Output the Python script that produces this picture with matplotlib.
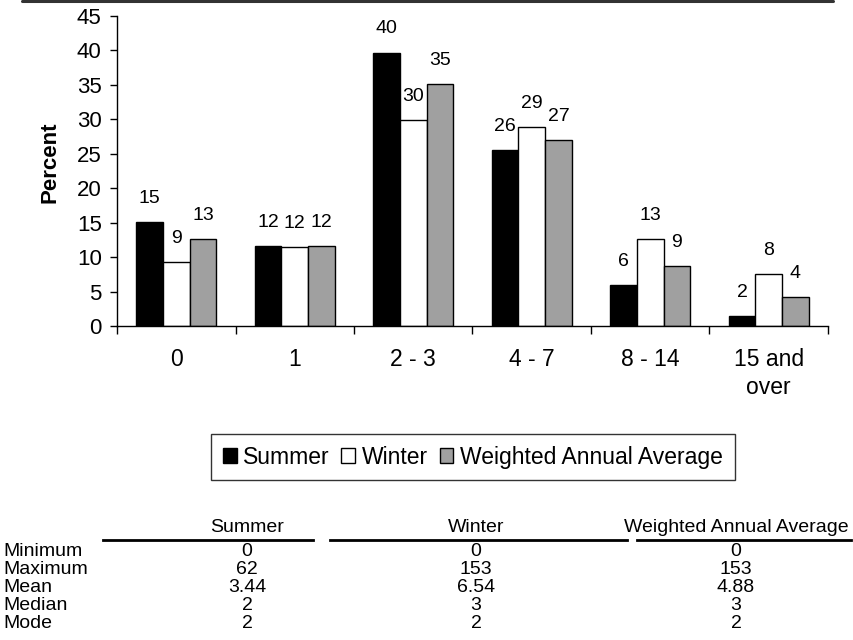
import matplotlib.pyplot as plt
import numpy as np
from matplotlib.lines import Line2D
from matplotlib.patches import Rectangle

plt.rcParams.update(
    {
        "font.family": ["Liberation Sans", "DejaVu Sans"],
        "axes.linewidth": 1.0,
    }
)

categories = ["0", "1", "2 - 3", "4 - 7", "8 - 14", "15 and\nover"]
series_names = ["Summer", "Winter", "Weighted Annual Average"]
summer = [15.1, 11.6, 39.7, 25.5, 5.9, 1.5]
winter = [9.3, 11.5, 29.9, 28.9, 12.6, 7.5]
weighted = [12.6, 11.6, 35.1, 27.0, 8.7, 4.2]
series_colors = ["#000000", "#ffffff", "#a0a0a0"]

stat_rows = ["Minimum", "Maximum", "Mean", "Median", "Mode"]
stat_summer = ["0", "62", "3.44", "2", "2"]
stat_winter = ["0", "153", "6.54", "3", "2"]
stat_weighted = ["0", "153", "4.88", "3", "2"]

W, H = 854, 640
fig = plt.figure(figsize=(W / 100, H / 100), dpi=100)


def fx(px):
    return px / W


def fy(py):
    return 1 - py / H


ax = fig.add_axes([fx(117), fy(326), fx(828) - fx(117), fy(16) - fy(326)])

x = np.arange(len(categories))
width = 0.225
for i, (vals, color) in enumerate(zip([summer, winter, weighted], series_colors)):
    pos = x + (i - 1) * width
    ax.bar(pos, vals, width=width, color=color, edgecolor="black", linewidth=1.0)
    for xp, v in zip(pos, vals):
        ax.annotate(f"{v:.0f}", (xp, v), xytext=(0, 17), textcoords="offset points",
                    ha="center", va="center", fontsize=14)

ax.set_xlim(-0.5, len(categories) - 0.5)
ax.set_ylim(0, 45)
ax.set_yticks(np.arange(0, 46, 5))
ax.tick_params(axis="y", labelsize=16, length=5, width=1.0, pad=6)
ax.set_xticks(np.arange(-0.5, len(categories), 1.0))
ax.set_xticklabels([])
ax.tick_params(axis="x", length=6, width=1.0)
ax.spines["top"].set_visible(False)
ax.spines["right"].set_visible(False)

for xc, label in zip(x, categories):
    ax.annotate(label, (xc, 0), xytext=(0, -16), textcoords="offset points",
                ha="center", va="top", fontsize=16.5, linespacing=1.25,
                annotation_clip=False)

fig.text(fx(50), fy(162), "Percent", rotation=90, ha="center", va="center",
         fontsize=16, fontweight="bold")

# legend with square swatches
handles = [Rectangle((0, 0), 1, 1, facecolor=c, edgecolor="black", linewidth=1.0)
           for c in series_colors]
leg = fig.legend(handles, series_names, loc="center", bbox_to_anchor=(fx(473), fy(457)),
                 ncol=3, fontsize=16.5, frameon=True, fancybox=False, shadow=False,
                 handlelength=0.6, handleheight=0.6, handletextpad=0.3,
                 columnspacing=0.5, borderpad=0.5, borderaxespad=0)
leg.get_frame().set_edgecolor("black")
leg.get_frame().set_linewidth(1.0)

# summary statistics table
col_centers = [247, 476, 736]
rule_spans = [(103, 313), (330, 627), (637, 851)]
for name, xc, (x0, x1) in zip(series_names, col_centers, rule_spans):
    fig.text(fx(xc), fy(528), name, ha="center", va="center", fontsize=14)
    fig.add_artist(Line2D([fx(x0), fx(x1)], [fy(540), fy(540)], color="black",
                          linewidth=2.0, transform=fig.transFigure))

row_y = [551, 569, 587, 605, 623]
for label, yv, a, b, c in zip(stat_rows, row_y, stat_summer, stat_winter, stat_weighted):
    fig.text(fx(3), fy(yv), label, ha="left", va="center", fontsize=14)
    for xc, v in zip(col_centers, (a, b, c)):
        fig.text(fx(xc), fy(yv), v, ha="center", va="center", fontsize=14)

# top edge of the surrounding frame
fig.add_artist(Line2D([fx(22), fx(833)], [fy(1), fy(1)], color="#333333",
                      linewidth=2.2, solid_capstyle="round", transform=fig.transFigure))

fig.savefig("out.png", dpi=100)
